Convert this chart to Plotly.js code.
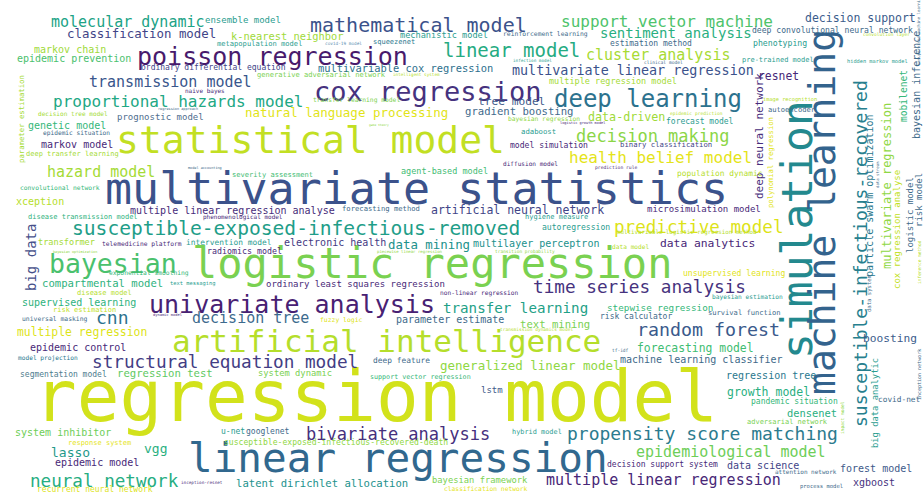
<!DOCTYPE html>
<html><head><meta charset="utf-8">
<script src="https://cdn.plot.ly/plotly-3.0.1.min.js"></script>
<style>html,body{margin:0;padding:0;background:#fff;}#chart{width:923px;height:493px;}</style>
</head><body><div id="chart"></div>
<script>
// ---- data: terms and their weights (weight = relative size in the cloud) ----
const words = [
"regression model","multivariate statistics","logistic regression","linear regression","simulation",
"machine learning","statistical model","artificial intelligence","cox regression","poisson regression",
"bayesian","univariate analysis","deep learning","mathematical model","susceptible-exposed-infectious-removed",
"linear model","susceptible-infectious-recovered","propensity score matching","random forest","neural network",
"time series analysis","predictive model","structural equation model","bivariate analysis","decision making",
"health belief model","proportional hazards model","support vector machine","cluster analysis","decision tree",
"molecular dynamic","transmission model","hazard model","epidemiological model","multiple linear regression",
"transfer learning","sentiment analysis","big data","multivariate linear regression","cnn",
"vgg","lasso","natural language processing","generalized linear model","classification model",
"data mining","data-driven","decision support","artificial neural network","growth model",
"resnet","multiple regression","forecasting model","data analytics","deep neural network",
"boosting","tree model","compartmental model","text mining","gradient boosting",
"regression test","latent dirichlet allocation","k-nearest neighbor","multivariable cox regression","densenet",
"xception","markov chain","epidemic prevention","genetic model","markov model",
"multiple linear regression analyse","electronic health","multilayer perceptron","epidemic control","system inhibitor",
"epidemic model","supervised learning","parameter estimate","machine learning classifier","regression tree",
"data science","forest model","xgboost","bayesian inference","particle swarm optimization",
"mobilenet","stepwise regression","ordinary least squares regression","microsimulation model","prognostic model",
"lstm","agent-based model","multiple regression model","mechanistic model","ensemble model",
"transformer","system dynamic","bayesian framework","big data analytic","radiomics model",
"unsupervised learning","autoregression","deep convolutional neural network","phenotyping","model simulation",
"intervention model","estimation method","forecast model","risk calculator","segmentation model",
"susceptible-exposed-infectious-recovered-death","decision support system","recurrent neural network","u-net","googlenet",
"pandemic situation","deep feature","population dynamic","covid-net","disease transmission model",
"binary classification","adaboost","parameter estimation","polynomial regression","forecasting method",
"ordinary differential equation","generative adversarial network","severity assessment","metapopulation model","squeezenet",
"deep transfer learning","pre-trained model","hygiene measure","disease model","risk estimation",
"response system","hybrid model","adversarial network","autoencoder","survival function",
"fuzzy logic","support vector regression","universal masking","reinforcement learning","telemedicine platform",
"exponential smoothing","convolutional network","transfer learning model","bayesian regression","classification network",
"model projection","epidemic situation","non-linear regression","data model","bayesian estimation",
"decision tree model","diffusion model","phenomenological model","naive bayes","attention network",
"multivariable logistic regression method","text messaging","process model","hidden markov model","image recognition",
"data system","convolution layer","epidemic prediction","prediction rule","transition probability",
"transmission dynamics model","tf-idf","covid-19 model","clinical model","infection model",
"intelligent system","inception-resnet","piecewise linear regression","impact model","inception network",
"dynamic model","logistic growth model","regression approach","model accounting","bayesian optimization",
"game theory","unsupervised machine learning","data stream","multivariate regression","cox regression analyse",
"logistic model","risk model","inference method"
];
const freq = [
71,45,42,41,43, 38,38,31,27,25, 26.5,25,24,20,19.6, 19,18,18,18.3,17.6,
17.7,17.6,17.7,17,17, 16,16,16,15,15, 15,15,15,15,15, 14.2,14,14,13.4,18,
13,13,12.5,12.5,12.4, 12.4,11.7,11.5,11.5,11.5, 11.4,11.4,11.4,11.3,11, 11.2,11.2,10.6,10.6,10.6,
10.6,10.6,10.4,10.4,10.4, 10,10,10,10,10, 10,10,10,10,10, 10,10,10,10,10,
10,10,10,10,10, 9.6,9.3,9,9,9, 9,8.5,8.5,8.6,9, 8.6,8.8,8.8,8.8,8.3,
8.1,8.1,8.1,8.2,8.1, 7.9,8,8,8,8, 8.1,8,8,8,8, 8,7.9,7.9,7.8,7,
7.3,7.3,7.3,7.2,7.2, 8,7.1,7.1,7.1,7, 7,7,7,7,7, 7,6.9,7,7.1,7.1,
6.4,6.7,6.4,6.4,6.3, 6.3,6.3,6.3,6.3,6.3, 6.2,6.2,6.2,6.2,6.2, 6.1,6.1,6,6,6,
5.8,5.4,5.5,5.3,5.3, 5.6,4.6,4.6,4.7,4.5, 4.5,4.5,4.4,4.6,4.3, 4.3,4.3,4,4.5,5,
3.7,3.6,3.5,3.5,3.5, 3,4,4,12,9, 9,9,4.5
];

// ---- placement / style of each term in the cloud (centre x, centre y, angle, colour) ----
const place = {
"regression model":[376,396,0,"#d2e21b"],
"multivariate statistics":[416,188,0,"#3b528b"],
"logistic regression":[432,263,0,"#7ad151"],
"linear regression":[398,458,0,"#31688e"],
"simulation":[797,230,-90,"#23898e"],
"machine learning":[822,212,-90,"#33638d"],
"statistical model":[310,140,0,"#c2df23"],
"artificial intelligence":[386,341,0,"#b5de2b"],
"cox regression":[428,91,0,"#46327e"],
"poisson regression":[272,56,0,"#481a6c"],
"bayesian":[113,263,0,"#4ac16d"],
"univariate analysis":[292,304,0,"#482173"],
"deep learning":[648,99,0,"#2c728e"],
"mathematical model":[418,25,0,"#3b528b"],
"susceptible-exposed-infectious-removed":[296,228,0,"#1f9e89"],
"linear model":[511,50,0,"#25ab82"],
"susceptible-infectious-recovered":[860,254,-90,"#277f8e"],
"propensity score matching":[702,433,0,"#2c7b8e"],
"random forest":[708,329,0,"#3a5a8c"],
"neural network":[104,481,0,"#26ad81"],
"time series analysis":[639,287,0,"#46327e"],
"predictive model":[698,227,0,"#dde318"],
"structural equation model":[225,362,0,"#433d84"],
"bivariate analysis":[398,434,0,"#46307d"],
"decision making":[653,136,0,"#8bd646"],
"health belief model":[660,157,0,"#e5e419"],
"proportional hazards model":[178,101,0,"#22a884"],
"support vector machine":[667,21,0,"#4ec36b"],
"cluster analysis":[658,55,0,"#a8db34"],
"decision tree":[250,318,0,"#3d6b8e"],
"molecular dynamic":[128,22,0,"#20a386"],
"transmission model":[170,82,0,"#39568c"],
"hazard model":[101,172,0,"#a5db36"],
"epidemiological model":[731,452,0,"#6ece58"],
"multiple linear regression":[663,480,0,"#482777"],
"transfer learning":[515,308,0,"#1fa187"],
"sentiment analysis":[676,33,0,"#29af7f"],
"big data":[31,258,-90,"#46508a"],
"multivariate linear regression":[633,70,0,"#3b528b"],
"cnn":[112,317,0,"#2c728e"],
"vgg":[155,448,0,"#29af7f"],
"lasso":[70,452,0,"#1f9a8a"],
"natural language processing":[346,112,0,"#e2e418"],
"generalized linear model":[530,365,0,"#8fd744"],
"classification model":[141,33,0,"#414487"],
"data mining":[429,244,0,"#21918c"],
"data-driven":[626,117,0,"#a0da39"],
"decision support":[860,18,0,"#3b5c8c"],
"artificial neural network":[517,210,0,"#414487"],
"growth model":[768,392,0,"#29af7f"],
"resnet":[778,76,0,"#482878"],
"multiple regression":[82,332,0,"#dde318"],
"forecasting model":[695,348,0,"#40bd72"],
"data analytics":[707,243,0,"#482677"],
"deep neural network":[759,136,-90,"#472d7b"],
"boosting":[890,338,0,"#3b5c8c"],
"tree model":[511,101,0,"#3e5a8a"],
"compartmental model":[102,283,0,"#2db27d"],
"text mining":[555,324,0,"#7ad151"],
"gradient boosting":[519,111,0,"#3f6a8b"],
"regression test":[165,373,0,"#5ec962"],
"latent dirichlet allocation":[322,483,0,"#21918c"],
"k-nearest neighbor":[287,36,0,"#a0da39"],
"multivariable cox regression":[405,68,0,"#2d708e"],
"densenet":[812,413,0,"#29af7f"],
"xception":[40,201,0,"#b5de2b"],
"markov chain":[70,49,0,"#a0da39"],
"epidemic prevention":[74,58,0,"#4ac16d"],
"genetic model":[67,125,0,"#35b779"],
"markov model":[77,144,0,"#482878"],
"multiple linear regression analyse":[232,210,0,"#472c7a"],
"electronic health":[335,242,0,"#443983"],
"multilayer perceptron":[536,243,0,"#21918c"],
"epidemic control":[78,347,0,"#482878"],
"system inhibitor":[63,432,0,"#6ece58"],
"epidemic model":[97,462,0,"#482878"],
"supervised learning":[79,302,0,"#2db27d"],
"parameter estimate":[450,319,0,"#3e6a8a"],
"machine learning classifier":[701,359,0,"#3e6a8a"],
"regression tree":[771,375,0,"#2a788e"],
"data science":[763,465,0,"#414487"],
"forest model":[876,468,0,"#3e5a8a"],
"xgboost":[874,482,0,"#46327e"],
"bayesian inference":[916,85,-90,"#3e6a8a"],
"particle swarm optimization":[869,196,-90,"#2a788e"],
"mobilenet":[903,96,-90,"#35b779"],
"stepwise regression":[660,307,0,"#35b779"],
"ordinary least squares regression":[355,284,0,"#482878"],
"microsimulation model":[704,209,0,"#482878"],
"prognostic model":[160,117,0,"#4e6d8e"],
"lstm":[492,390,0,"#3e5a8a"],
"agent-based model":[444,171,0,"#3fbc73"],
"multiple regression model":[613,81,0,"#a5db36"],
"mechanistic model":[444,35,0,"#2a9d8f"],
"ensemble model":[243,20,0,"#2a9d8f"],
"transformer":[66,242,0,"#a5db36"],
"system dynamic":[295,373,0,"#7ad151"],
"bayesian framework":[480,480,0,"#7ad151"],
"big data analytic":[875,403,-90,"#2a9d8f"],
"radiomics model":[244,251,0,"#482878"],
"unsupervised learning":[734,273,0,"#e2e418"],
"autoregression":[576,227,0,"#2a9d8f"],
"deep convolutional neural network":[832,30,0,"#3e6a8a"],
"phenotyping":[780,43,0,"#2a9d8f"],
"model simulation":[549,145,0,"#482878"],
"intervention model":[229,242,0,"#2a9d8f"],
"estimation method":[651,43,0,"#3e6a8a"],
"forecast model":[700,121,0,"#2a9d8f"],
"risk calculator":[636,316,0,"#3e6a8a"],
"segmentation model":[63,374,0,"#4e7d8e"],
"susceptible-exposed-infectious-recovered-death":[336,442,0,"#8fd744"],
"decision support system":[662,464,0,"#482878"],
"recurrent neural network":[95,489,0,"#dde318"],
"u-net":[233,431,0,"#2a9d8f"],
"googlenet":[268,431,0,"#3e6a8a"],
"pandemic situation":[794,401,0,"#35b779"],
"deep feature":[401,360,0,"#3e6a8a"],
"population dynamic":[720,173,0,"#b5de2b"],
"covid-net":[899,399,0,"#3e6a8a"],
"disease transmission model":[83,217,0,"#2db27d"],
"binary classification":[666,144,0,"#414487"],
"adaboost":[538,131,0,"#2a9d8f"],
"parameter estimation":[21,119,-90,"#a5db36"],
"polynomial regression":[770,163,-90,"#e2e418"],
"forecasting method":[381,208,0,"#3e6a8a"],
"ordinary differential equation":[213,67,0,"#414487"],
"generative adversarial network":[321,74,0,"#7ad151"],
"severity assessment":[272,174,0,"#3fbc73"],
"metapopulation model":[259,43,0,"#2a9d8f"],
"squeezenet":[394,42,0,"#2a788e"],
"deep transfer learning":[72,154,0,"#a5db36"],
"pre-trained model":[778,60,0,"#2a9d8f"],
"hygiene measure":[556,217,0,"#2a9d8f"],
"disease model":[104,293,0,"#b5de2b"],
"risk estimation":[84,310,0,"#c2df23"],
"response system":[99,443,0,"#e5e419"],
"hybrid model":[537,432,0,"#2a9d8f"],
"adversarial network":[787,422,0,"#7ad151"],
"autoencoder":[791,109,0,"#3e6a8a"],
"survival function":[744,312,0,"#3e6a8a"],
"fuzzy logic":[341,320,0,"#dde318"],
"support vector regression":[420,377,0,"#35b779"],
"universal masking":[55,319,0,"#3e6a8a"],
"reinforcement learning":[545,34,0,"#3e6a8a"],
"telemedicine platform":[142,244,0,"#482878"],
"exponential smoothing":[149,273,0,"#35b779"],
"convolutional network":[60,187,0,"#35b779"],
"transfer learning model":[356,100,0,"#7ad151"],
"bayesian regression":[544,119,0,"#8fd744"],
"classification network":[486,488,0,"#e5e419"],
"model projection":[48,358,0,"#2a788e"],
"epidemic situation":[76,133,0,"#3e6a8a"],
"non-linear regression":[479,293,0,"#482878"],
"data model":[631,246,0,"#b5de2b"],
"bayesian estimation":[747,297,0,"#2a9d8f"],
"decision tree model":[73,113,0,"#a5db36"],
"diffusion model":[530,163,0,"#482878"],
"phenomenological model":[243,217,0,"#482878"],
"naive bayes":[205,91,0,"#482878"],
"attention network":[806,471,0,"#3e6a8a"],
"multivariable logistic regression method":[687,232,0,"#b5de2b"],
"text messaging":[192,283,0,"#2a9d8f"],
"process model":[821,486,0,"#3e6a8a"],
"hidden markov model":[877,61,0,"#2a9d8f"],
"image recognition":[790,99,0,"#b5de2b"],
"data system":[869,293,-90,"#3e6a8a"],
"convolution layer":[886,34,0,"#b5de2b"],
"epidemic prediction":[696,113,0,"#b5de2b"],
"prediction rule":[616,167,0,"#482878"],
"transition probability":[525,251,0,"#8fd744"],
"transmission dynamics model":[536,329,0,"#b5de2b"],
"tf-idf":[620,350,0,"#3e6a8a"],
"covid-19 model":[343,43,0,"#5b8db0"],
"clinical model":[663,62,0,"#3e6a8a"],
"infection model":[532,60,0,"#2a9d8f"],
"intelligent system":[416,74,0,"#b5de2b"],
"inception-resnet":[202,482,0,"#482878"],
"piecewise linear regression":[410,251,0,"#8fd744"],
"impact model":[842,418,-90,"#8fd744"],
"inception network":[919,375,-90,"#3e6a8a"],
"dynamic model":[167,315,0,"#482878"],
"logistic growth model":[582,123,0,"#482878"],
"regression approach":[178,109,0,"#3e6a8a"],
"model accounting":[205,168,0,"#3e6a8a"],
"bayesian optimization":[75,252,0,"#8fd744"],
"game theory":[379,125,0,"#8fd744"],
"unsupervised machine learning":[918,30,-90,"#3e6a8a"],
"data stream":[877,175,-90,"#3e6a8a"],
"multivariate regression":[887,186,-90,"#8fd744"],
"cox regression analyse":[897,230,-90,"#c2df23"],
"logistic model":[910,215,-90,"#3e6a8a"],
"risk model":[919,200,-90,"#3e6a8a"],
"inference method":[919,262,-90,"#b5de2b"]
};

const annotations = words.map((w, i) => {
  const p = place[w];
  return {
    x: p[0], y: p[1], xref: 'x', yref: 'y', text: w, showarrow: false,
    textangle: p[2], xanchor: 'center', yanchor: 'middle', borderpad: 0,
    font: {family: 'DejaVu Sans Mono, monospace', size: freq[i], color: p[3]}
  };
});

Plotly.newPlot('chart', [{x: [], y: [], type: 'scatter', mode: 'markers', hoverinfo: 'skip'}], {
  width: 923, height: 493,
  margin: {l: 0, r: 0, t: 0, b: 0},
  xaxis: {range: [0, 923], visible: false, fixedrange: true},
  yaxis: {range: [493, 0], visible: false, fixedrange: true},
  paper_bgcolor: '#ffffff', plot_bgcolor: '#ffffff',
  showlegend: false,
  annotations: annotations
}, {staticPlot: true, displayModeBar: false});
</script></body></html>
